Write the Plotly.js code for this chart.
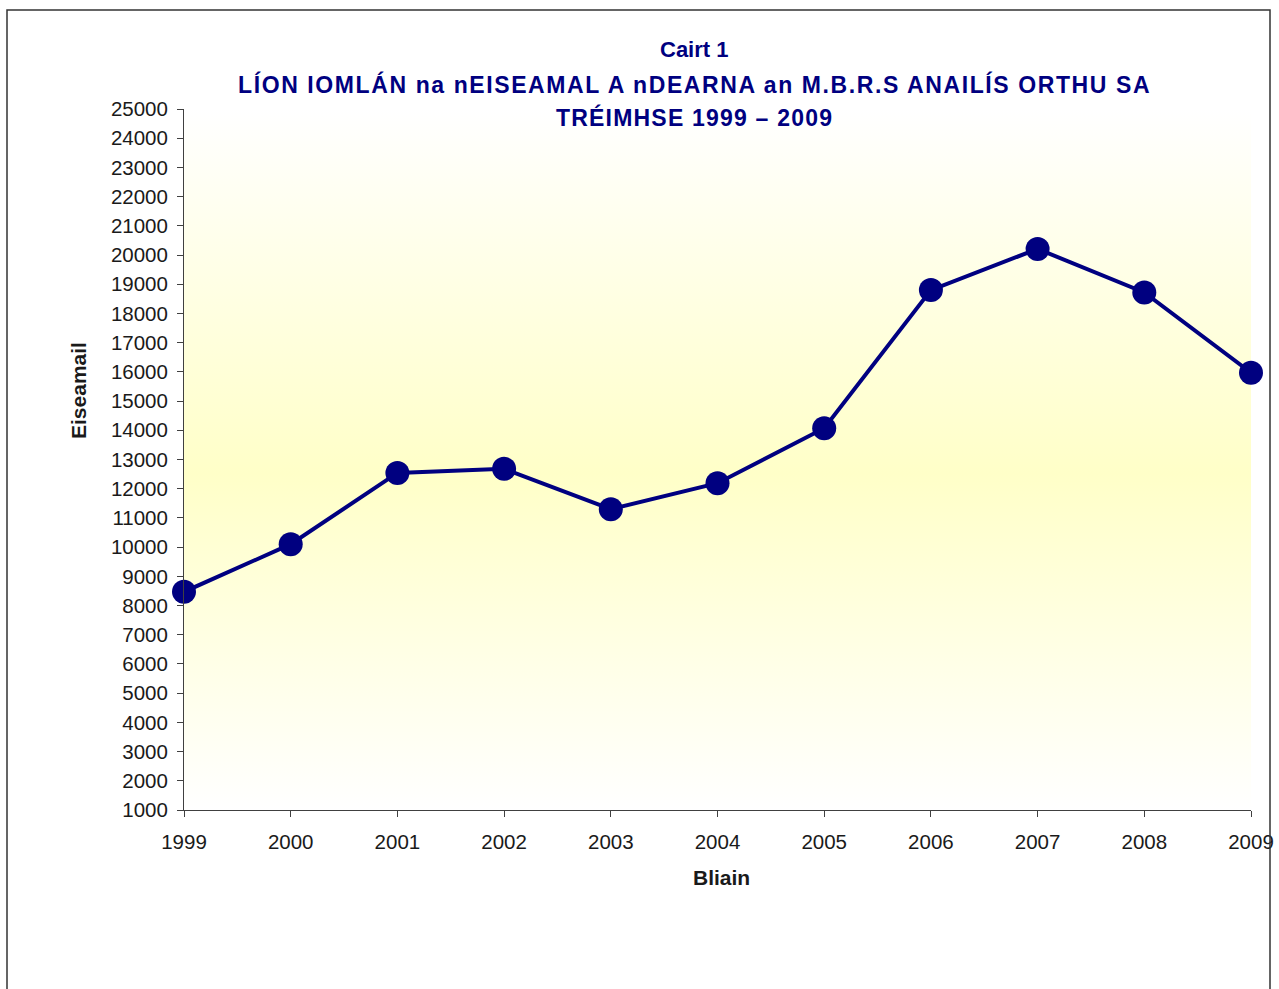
<!DOCTYPE html>
<html>
<head>
<meta charset="utf-8">
<script src="https://cdn.plot.ly/plotly-3.0.1.min.js"></script>
<style>
  html, body { margin: 0; padding: 0; background: #ffffff; }
  #chart { width: 1279px; height: 989px; }
</style>
</head>
<body>
<div id="chart"></div>
<script>
// ---- data ----
const years = [1999, 2000, 2001, 2002, 2003, 2004, 2005, 2006, 2007, 2008, 2009];
const samples = [8470, 10100, 12540, 12680, 11300, 12190, 14070, 18800, 20210, 18720, 15970];
const titleLines = [
  "Cairt 1",
  "LÍON IOMLÁN na nEISEAMAL A nDEARNA an M.B.R.S ANAILÍS ORTHU SA",
  "TRÉIMHSE 1999 – 2009"
];
const xTitle = "Bliain";
const yTitle = "Eiseamail";

const navy = "#000080";
const axisCol = "#404040";
const font = "Liberation Sans, Arial, sans-serif";

const gradSvg = '<svg xmlns="http://www.w3.org/2000/svg" width="100" height="100" preserveAspectRatio="none">' +
  '<defs><linearGradient id="g" x1="0" y1="0" x2="0" y2="1">' +
  '<stop offset="0" stop-color="#ffffff"/>' +
  '<stop offset="0.52" stop-color="#ffffc8"/>' +
  '<stop offset="1" stop-color="#ffffff"/>' +
  '</linearGradient></defs><rect width="100" height="100" fill="url(#g)"/></svg>';
const gradUri = "data:image/svg+xml;base64," + btoa(gradSvg);

const trace = {
  x: years,
  y: samples,
  type: "scatter",
  mode: "lines+markers",
  line: { color: navy, width: 4 },
  marker: { color: navy, size: 24 },
  cliponaxis: false,
  hoverinfo: "x+y"
};

const yTicks = [];
for (let v = 1000; v <= 25000; v += 1000) yTicks.push(v);

const tickFont = { family: font, size: 20.5, color: "#1a1a1a" };

const layout = {
  width: 1279,
  height: 989,
  margin: { l: 184, r: 28, t: 109, b: 179 },
  paper_bgcolor: "#ffffff",
  plot_bgcolor: "rgba(0,0,0,0)",
  showlegend: false,
  font: { family: font, size: 20, color: "#1a1a1a" },
  xaxis: {
    range: [1999, 2009],
    tickvals: years,
    ticktext: years.map(String),
    ticks: "outside",
    ticklen: 6,
    tickcolor: axisCol,
    ticklabelstandoff: 7,
    showline: true,
    linecolor: axisCol,
    linewidth: 1,
    showgrid: false,
    zeroline: false,
    tickfont: tickFont,
    fixedrange: true
  },
  xaxis2: {
    overlaying: "x",
    anchor: "y",
    range: [1999, 2009],
    tickvals: years,
    ticks: "inside",
    ticklen: 6,
    tickcolor: axisCol,
    showticklabels: false,
    showline: false,
    showgrid: false,
    zeroline: false,
    fixedrange: true
  },
  yaxis: {
    range: [1000, 25000],
    tickvals: yTicks,
    ticktext: yTicks.map(String),
    ticks: "outside",
    ticklen: 6,
    tickcolor: axisCol,
    ticklabelstandoff: 5,
    showline: true,
    linecolor: axisCol,
    linewidth: 1,
    showgrid: false,
    zeroline: false,
    tickfont: tickFont,
    fixedrange: true
  },
  yaxis2: {
    overlaying: "y",
    anchor: "x",
    side: "left",
    range: [1000, 25000],
    tickvals: yTicks,
    ticks: "inside",
    ticklen: 6,
    tickcolor: axisCol,
    showticklabels: false,
    showline: false,
    showgrid: false,
    zeroline: false,
    fixedrange: true
  },
  images: [{
    source: gradUri,
    xref: "paper", yref: "paper",
    x: 0, y: 1, sizex: 1, sizey: 1,
    xanchor: "left", yanchor: "top",
    sizing: "stretch",
    layer: "below"
  }],
  shapes: [{
    type: "rect",
    xref: "paper", yref: "paper",
    x0: (7 - 184) / 1067, x1: (1270 - 184) / 1067,
    y0: (810 - 1000) / 701, y1: (810 - 10) / 701,
    line: { color: "#333333", width: 1.5 },
    fillcolor: "rgba(0,0,0,0)",
    layer: "above"
  }],
  annotations: [
    { text: "<b>" + titleLines[0] + "</b>", xref: "paper", yref: "paper",
      x: (694 - 184) / 1067, y: (810 - 50) / 701, xanchor: "center", yanchor: "middle",
      showarrow: false, font: { family: font, size: 22, color: navy } },
    { text: '<b><span style="letter-spacing:1.6px">' + titleLines[1] + "</span></b>", xref: "paper", yref: "paper",
      x: (694 - 184) / 1067, y: (810 - 84) / 701, xanchor: "center", yanchor: "middle",
      showarrow: false, font: { family: font, size: 23, color: navy } },
    { text: '<b><span style="letter-spacing:1.2px">' + titleLines[2] + "</span></b>", xref: "paper", yref: "paper",
      x: (694 - 184) / 1067, y: (810 - 117) / 701, xanchor: "center", yanchor: "middle",
      showarrow: false, font: { family: font, size: 23, color: navy } },
    { text: "<b>" + yTitle + "</b>", xref: "paper", yref: "paper",
      x: (78 - 184) / 1067, y: (810 - 391) / 701, xanchor: "center", yanchor: "middle",
      textangle: -90, showarrow: false, font: { family: font, size: 21, color: "#1a1a1a" } },
    { text: "<b>" + xTitle + "</b>", xref: "paper", yref: "paper",
      x: (721 - 184) / 1067, y: (810 - 877) / 701, xanchor: "center", yanchor: "middle",
      showarrow: false, font: { family: font, size: 21, color: "#1a1a1a" } }
  ]
};

Plotly.newPlot("chart", [trace], layout, { displayModeBar: false });
</script>
</body>
</html>
